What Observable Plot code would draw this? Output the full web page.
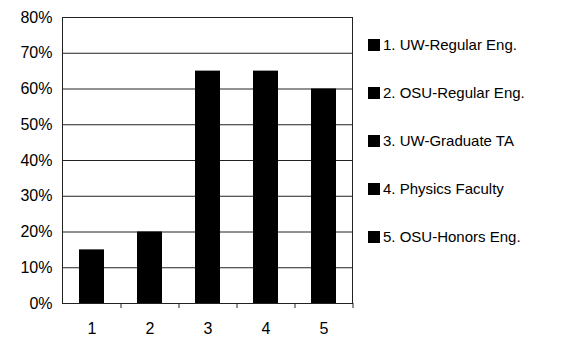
<!DOCTYPE html>
<html>
<head>
<meta charset="utf-8">
<script src="https://cdn.jsdelivr.net/npm/d3@7"></script>
<script src="https://cdn.jsdelivr.net/npm/@observablehq/plot@0.6"></script>
<style>
  html, body { margin: 0; padding: 0; background: #fff; }
  #wrap { position: relative; width: 566px; height: 337px; font-family: "Liberation Sans", Arial, sans-serif; }
  #legend { position: absolute; left: 368px; top: 0; }
  .item { position: absolute; left: 0; white-space: nowrap; font-size: 15px; color: #000; display: flex; align-items: center; }
  .sw { width: 12px; height: 12px; background: #000; margin-right: 3px; }
</style>
</head>
<body>
<div id="wrap"><div id="chart"></div><div id="legend"></div></div>
<script>
const categories = ["1", "2", "3", "4", "5"];
const values = [0.15, 0.20, 0.65, 0.65, 0.60];
const legendLabels = ["1. UW-Regular Eng.", "2. OSU-Regular Eng.", "3. UW-Graduate TA", "4. Physics Faculty", "5. OSU-Honors Eng."];
const yTicks = [0, 0.1, 0.2, 0.3, 0.4, 0.5, 0.6, 0.7, 0.8];

const data = categories.map((c, i) => ({cat: c, value: values[i]}));

const W = 358, H = 337, mL = 62, mR = 6, mT = 17, mB = 34;
const step = (W - mL - mR) / categories.length;

const chart = Plot.plot({
  width: W,
  height: H,
  marginLeft: mL,
  marginRight: mR,
  marginTop: mT,
  marginBottom: mB,
  style: {fontFamily: "Liberation Sans, Arial, sans-serif", fontSize: "15px", color: "#000", background: "#fff"},
  x: {domain: categories, paddingInner: 0.57, paddingOuter: 0.285, label: null},
  y: {domain: [0, 0.8], label: null},
  marks: [
    Plot.ruleY(yTicks, {stroke: "#222", strokeWidth: 1}),
    Plot.barY(data, {x: "cat", y: "value", fill: "#000"}),
    Plot.frame({stroke: "#222", strokeWidth: 1}),
    Plot.axisY(yTicks, {tickSize: 0, tickPadding: 10, tickFormat: d3.format(".0%"), fontSize: 16, label: null}),
    Plot.axisX({tickSize: 5, tickFormat: () => "", dx: step / 2, stroke: "#222", label: null}),
    Plot.axisX({tickSize: 0, tickPadding: 19, fontSize: 16, label: null})
  ]
});
document.getElementById("chart").appendChild(chart);

const legend = document.getElementById("legend");
const rowY = [45, 93, 141, 189, 237];
legendLabels.forEach((t, i) => {
  const d = document.createElement("div");
  d.className = "item";
  d.style.top = (rowY[i] - 9) + "px";
  d.innerHTML = '<span class="sw"></span><span></span>';
  d.lastChild.textContent = t;
  legend.appendChild(d);
});
</script>
</body>
</html>
